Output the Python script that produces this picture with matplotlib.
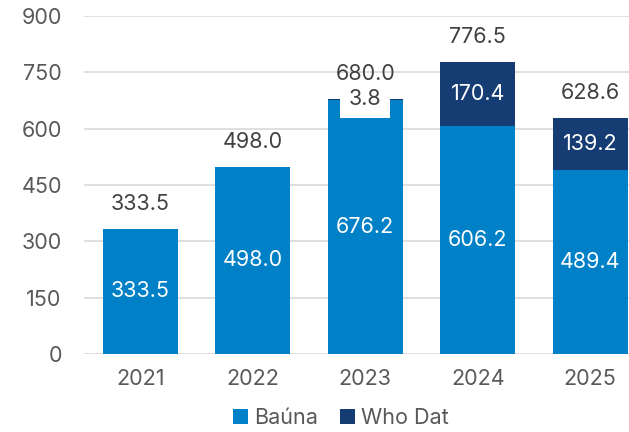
import matplotlib
matplotlib.use("Agg")
import matplotlib.pyplot as plt
from matplotlib.patches import Patch

years = ["2021", "2022", "2023", "2024", "2025"]
bauna = [333.5, 498.0, 676.2, 606.2, 489.4]
who_dat = [0.0, 0.0, 3.8, 170.4, 139.2]
totals = [333.5, 498.0, 680.0, 776.5, 628.6]
yticks = [0, 150, 300, 450, 600, 750, 900]

c_bauna = "#0080C6"
c_who = "#163D73"
grey = "#595959"
dark = "#404040"

plt.rcParams['font.family'] = ['Inter', 'DejaVu Sans']
fs = 15.5

fig = plt.figure(figsize=(6.29, 4.32), dpi=100)
ax = fig.add_axes([84/629, 78/432, 1 - 84/629, (354-16)/432])

x = list(range(len(years)))
w = 0.667
ax.bar(x, bauna, width=w, color=c_bauna, zorder=2)
ax.bar(x, who_dat, width=w, bottom=bauna, color=c_who, zorder=2)

for i in x:
    ax.text(i, bauna[i] / 2, f"{bauna[i]:.1f}", ha="center", va="center",
            color="white", fontsize=fs, zorder=4)
    if who_dat[i] > 0:
        yc = bauna[i] + who_dat[i] / 2
        if who_dat[i] > 40:
            ax.text(i, yc, f"{who_dat[i]:.1f}", ha="center", va="center",
                    color="white", fontsize=fs, zorder=4)
        else:
            ax.text(i, yc, f"{who_dat[i]:.1f}", ha="center", va="center",
                    color=dark, fontsize=fs, zorder=4,
                    bbox=dict(facecolor="white", edgecolor="none",
                              boxstyle="square,pad=0.4"))
    ax.annotate(f"{totals[i]:.1f}", xy=(i, totals[i]), xytext=(0, 25),
                textcoords="offset pixels", ha="center", va="center",
                color=dark, fontsize=fs, zorder=4)

ax.set_xlim(-0.5, 4.345)
ax.set_ylim(0, 900)
ax.set_yticks(yticks)
ax.set_yticklabels([str(t) for t in yticks])
ax.set_xticks(x)
ax.set_xticklabels(years)
ax.tick_params(axis="both", length=0, labelsize=fs, labelcolor=grey)
ax.tick_params(axis="y", pad=16)
ax.tick_params(axis="x", pad=11)
ax.grid(axis="y", color="#d9d9d9", linewidth=1.2, zorder=0)
ax.set_axisbelow(True)
for s in ax.spines.values():
    s.set_visible(False)

handles = [Patch(facecolor=c_bauna, label="Baúna"),
           Patch(facecolor=c_who, label="Who Dat")]
fig.legend(handles=handles, loc="center", bbox_to_anchor=(341/629, 14/432),
           ncol=2, frameon=False, fontsize=fs, labelcolor=grey,
           handlelength=0.7, handleheight=0.7, handletextpad=0.3,
           columnspacing=1.0)

fig.savefig("out.png", dpi=100)
